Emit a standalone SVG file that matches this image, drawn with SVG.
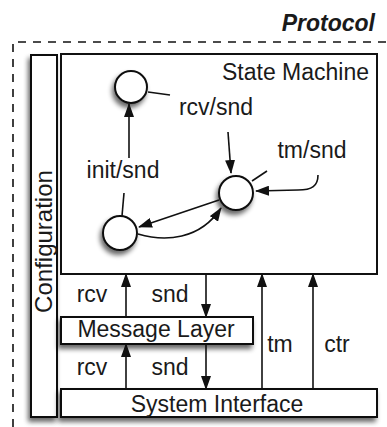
<svg xmlns="http://www.w3.org/2000/svg" width="387" height="427" viewBox="0 0 387 427">
<style>
.t{font-family:"Liberation Sans",Arial,sans-serif;font-size:23px;fill:#1a1a1a}
.box{fill:#fff;stroke:#111;stroke-width:2}
.st{fill:#fff;stroke:#111;stroke-width:2}
.ln{fill:none;stroke:#111;stroke-width:1.6}
.arr{fill:none;stroke:#111;stroke-width:1.6;marker-end:url(#ah)}
.dash{fill:none;stroke:#111;stroke-width:1.6;stroke-dasharray:8 7}
</style>
<defs>
<marker id="ah" viewBox="0 0 14 10" refX="13" refY="5" markerWidth="14" markerHeight="10" markerUnits="userSpaceOnUse" orient="auto">
<path d="M0,0 L14,5 L0,10 Z" fill="#111"/>
</marker>
<filter id="sh" x="-30%" y="-30%" width="160%" height="170%">
<feGaussianBlur in="SourceAlpha" stdDeviation="2.5"/>
<feOffset dx="-2" dy="4" result="b"/>
<feComponentTransfer><feFuncA type="linear" slope="0.6"/></feComponentTransfer>
<feMerge><feMergeNode/><feMergeNode in="SourceGraphic"/></feMerge>
</filter>
</defs>
<rect width="387" height="427" fill="#fff"/>
<g id="protocol">
<path class="dash" d="M13,427 L13,42 L387,42"/>
<text class="t" x="375" y="31" text-anchor="end" font-weight="bold" font-style="italic">Protocol</text>
</g>
<g id="configuration">
<rect class="box" x="31" y="55" width="26" height="362" filter="url(#sh)"/>
<text class="t" transform="translate(52,241.5) rotate(-90)" text-anchor="middle" style="font-size:24px">Configuration</text>
</g>
<g id="state-machine">
<rect class="box" x="61" y="54" width="316" height="220"/>
<text class="t" x="369" y="80" text-anchor="end">State Machine</text>
</g>
<g id="state-top">
<circle class="st" cx="131" cy="87" r="16" filter="url(#sh)"/>
</g>
<g id="state-left">
<circle class="st" cx="120" cy="233" r="17" filter="url(#sh)"/>
</g>
<g id="state-right">
<circle class="st" cx="236" cy="193" r="17" filter="url(#sh)"/>
</g>
<g id="message-layer">
<rect class="box" x="61" y="317" width="192" height="27" filter="url(#sh)"/>
<text class="t" x="156" y="337" text-anchor="middle">Message Layer</text>
</g>
<g id="system-interface">
<rect class="box" x="61" y="389" width="316" height="28" filter="url(#sh)"/>
<text class="t" x="217" y="412" text-anchor="middle">System Interface</text>
</g>
<g id="connectors">
<path class="ln" d="M148,92 L170,95"/>
<path class="ln" d="M252,181 L267,171"/>
<path class="ln" d="M124,193 L122,216"/>
<path class="arr" d="M129,158 L129,104"/>
<path class="arr" d="M228,132 L231,173"/>
<path class="arr" d="M318,175 C318,186 312,190 298,190 L256,191"/>
<path class="arr" d="M219,200 L139,227"/>
<path class="arr" d="M138,234 C165,242 200,240 221,208"/>
<path class="arr" d="M126,317 L126,274"/>
<path class="arr" d="M206,274 L206,317"/>
<path class="arr" d="M126,389 L126,344"/>
<path class="arr" d="M206,344 L206,389"/>
<path class="arr" d="M262,389 L262,274"/>
<path class="arr" d="M313,389 L313,274"/>
</g>
<g id="labels">
<text class="t" x="216" y="115" text-anchor="middle">rcv/snd</text>
<text class="t" x="123" y="178" text-anchor="middle">init/snd</text>
<text class="t" x="312" y="158" text-anchor="middle">tm/snd</text>
<text class="t" x="92" y="302" text-anchor="middle">rcv</text>
<text class="t" x="170" y="302" text-anchor="middle">snd</text>
<text class="t" x="92" y="375" text-anchor="middle">rcv</text>
<text class="t" x="170" y="375" text-anchor="middle">snd</text>
<text class="t" x="280" y="352" text-anchor="middle">tm</text>
<text class="t" x="337" y="352" text-anchor="middle">ctr</text>
</g>
</svg>
